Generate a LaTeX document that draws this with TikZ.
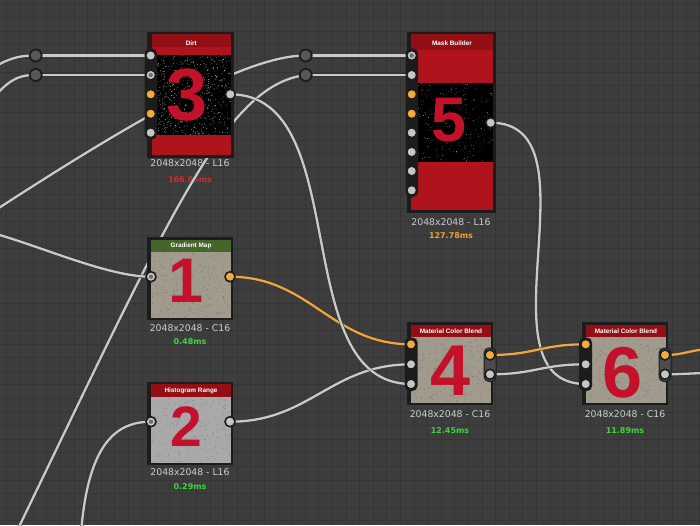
\documentclass[tikz,border=0pt]{standalone}
\usepackage{fontspec}
\setmainfont{DejaVu Sans}
\newfontfamily\arialf{Liberation Sans}
\pgfdeclarelayer{gridl}
\pgfdeclarelayer{wirel}
\pgfsetlayers{gridl,wirel,main}
\definecolor{bgc}{HTML}{3D3D3D}
\definecolor{gridc}{HTML}{353535}
\definecolor{framec}{HTML}{1C1C1C}
\definecolor{hdrred}{HTML}{930E15}
\definecolor{bodyred}{HTML}{AF131B}
\definecolor{numred}{HTML}{C3102B}
\definecolor{hdrgreen}{HTML}{46652A}
\definecolor{beige}{HTML}{A19B8E}
\definecolor{greytex}{HTML}{A9A9A9}
\definecolor{sockc}{HTML}{C6C6C6}
\definecolor{sockor}{HTML}{F5AA3C}
\definecolor{wireg}{HTML}{C9C9C9}
\definecolor{wireo}{HTML}{EFA43C}
\definecolor{captc}{HTML}{CDCDCD}
\definecolor{timered}{HTML}{E02828}
\definecolor{timeorange}{HTML}{F0A030}
\definecolor{timegreen}{HTML}{3FD43F}
\definecolor{relayc}{HTML}{585858}
\definecolor{outbar}{HTML}{4C4C4C}
\tikzset{
  sock/.style={circle, minimum size=10pt, inner sep=0pt, draw=framec, line width=1.6pt, fill=sockc},
  socko/.style={sock, fill=sockor},
  sockr/.style={sock, path picture={\fill[sockc!55!black] (path picture bounding box.center) circle (2.2pt);}},
  relay/.style={circle, minimum size=12pt, inner sep=0pt, draw=framec, line width=1.8pt, fill=relayc},
  wire/.style={draw=wireg, line width=2.3pt, preaction={draw=black!80, line width=3.3pt}},
  owire/.style={draw=wireo, line width=2.3pt, preaction={draw=black!80, line width=3.3pt}},
  caption/.style={font=\fontsize{9.3}{10}\selectfont, text=captc, inner sep=0pt},
  timing/.style={font=\fontsize{8}{9}\selectfont\bfseries, inner sep=0pt},
  title/.style={font=\arialf\bfseries\fontsize{6.4}{7}\selectfont, text=white, inner sep=0pt},
  digit/.style={font=\arialf\bfseries\fontsize{#1}{#1}\selectfont, text=numred, inner sep=0pt},
  gridline/.style={draw=gridc, line width=0.7pt}
}
\begin{document}
\begin{tikzpicture}[x=1pt,y=-1pt]
\useasboundingbox (0,0) rectangle (700,525);
\clip (0,0) rectangle (700,525);
\begin{pgfonlayer}{gridl}
\fill[bgc] (0,0) rectangle (700,525);
\foreach \gx in {6,19.6,...,700} \draw[gridline] (\gx,0) -- (\gx,525);
\foreach \gy in {4,17.6,...,525} \draw[gridline] (0,\gy) -- (700,\gy);
% captions (under wires)
\node[caption] (c3) at (190,163.3) {2048x2048 - L16};
\node[timing, text=timered] (t3) at (190,179.3) {166.85ms};
\node[caption] (c5) at (451,222) {2048x2048 - L16};
\node[timing, text=timeorange] (t5) at (451,236) {127.78ms};
\node[caption] (c1) at (190,327.7) {2048x2048 - C16};
\node[timing, text=timegreen] (t1) at (190,341.7) {0.48ms};
\node[caption] (c2) at (190,471.7) {2048x2048 - L16};
\node[timing, text=timegreen] (t2) at (190,486.7) {0.29ms};
\node[caption] (c4) at (450,414.3) {2048x2048 - C16};
\node[timing, text=timegreen] (t4) at (450,431) {12.45ms};
\node[caption] (c6) at (625,414.3) {2048x2048 - C16};
\node[timing, text=timegreen] (t6) at (625,431) {11.89ms};
\end{pgfonlayer}

% ---------- Node 3 : Dirt ----------
\fill[framec] (147,31.5) rectangle (233.5,157.5);
\fill[bodyred] (151.7,34.3) rectangle (230.7,55);
\fill[hdrred] (151.7,34.3) rectangle (230.7,47);
\fill[black] (151.7,55) rectangle (230.7,135);
\fill[bodyred] (151.7,135) rectangle (230.7,155);
\pgfmathsetseed{7}
\foreach \k in {1,...,650}{
  \pgfmathsetmacro{\px}{152.2+78*rnd}
  \pgfmathsetmacro{\py}{55.5+79*rnd}
  \pgfmathtruncatemacro{\pg}{25+65*rnd}
  \fill[white!\pg!black] (\px,\py) circle (0.45);
}
\node[title] (h3) at (191.3,43.3) {Dirt};
\node[digit=74] (d3) at (186.7,95) {3};
\fill[framec, rounded corners=5pt] (144.5,48.5) rectangle (157,139.5);
\node[sock] (n3i1) at (150.7,55.5) {};
\node[sockr] (n3i2) at (150.7,75) {};
\node[socko] (n3i3) at (150.7,94.3) {};
\node[socko] (n3i4) at (150.7,113.7) {};
\node[sock] (n3i5) at (150.7,132.7) {};
\node[sock] (n3o) at (230.3,94.3) {};

% ---------- Node 5 : Mask Builder ----------
\fill[framec] (407.3,31.5) rectangle (495.7,212.5);
\fill[bodyred] (411,34.3) rectangle (493.3,83);
\fill[hdrred] (411,34.3) rectangle (493.3,50);
\fill[black] (411,83) rectangle (493.3,162);
\fill[bodyred] (411,162) rectangle (493.3,210);
\foreach \k in {1,...,260}{
  \pgfmathsetmacro{\px}{411.5+81.5*rnd}
  \pgfmathsetmacro{\py}{83.5+78*rnd}
  \pgfmathtruncatemacro{\pg}{20+60*rnd}
  \fill[white!\pg!black] (\px,\py) circle (0.4);
}
\node[title] (h5) at (452,43.3) {Mask Builder};
\node[digit=63] (d5) at (449,120.5) {5};
\fill[framec, rounded corners=5pt] (405.5,48.5) rectangle (418,197);
\node[sockr] (n5i1) at (411.7,55.5) {};
\node[sock] (n5i2) at (411.7,75) {};
\node[socko] (n5i3) at (411.7,94.3) {};
\node[socko] (n5i4) at (411.7,113.7) {};
\node[sock] (n5i5) at (411.7,132.7) {};
\node[sock] (n5i6) at (411.7,152) {};
\node[sock] (n5i7) at (411.7,171) {};
\node[sock] (n5i8) at (411.7,190.3) {};
\node[sock] (n5o) at (490.7,122.7) {};

% ---------- Node 1 : Gradient Map ----------
\fill[framec] (147.3,237.3) rectangle (233.3,320);
\fill[hdrgreen] (151,239.5) rectangle (231,252);
\fill[beige] (151,252) rectangle (231,317.5);
\foreach \k in {1,...,350}{
  \pgfmathsetmacro{\px}{151.5+79*rnd}
  \pgfmathsetmacro{\py}{252.5+64.5*rnd}
  \pgfmathtruncatemacro{\pg}{55+45*rnd}
  \fill[beige!\pg!black, opacity=0.6] (\px,\py) circle (0.55);
}
\node[title] (h1) at (191,245.7) {Gradient Map};
\node[digit=63] (d1) at (186.3,280.8) {1};
\node[sockr] (n1i) at (151,276.7) {};
\node[socko] (n1o) at (230,276.7) {};

% ---------- Node 2 : Histogram Range ----------
\fill[framec] (147.3,381.7) rectangle (233.3,465);
\fill[hdrred] (151,384) rectangle (231,397);
\fill[greytex] (151,397) rectangle (231,462.5);
\foreach \k in {1,...,350}{
  \pgfmathsetmacro{\px}{151.5+79*rnd}
  \pgfmathsetmacro{\py}{397.5+64.5*rnd}
  \pgfmathtruncatemacro{\pg}{60+40*rnd}
  \fill[greytex!\pg!black, opacity=0.6] (\px,\py) circle (0.55);
}
\node[title] (h2) at (191,390.7) {Histogram Range};
\node[digit=57] (d2) at (186,427) {2};
\node[sockr] (n2i) at (151,421.7) {};
\node[sock] (n2o) at (230,421.7) {};

% ---------- Node 4 : Material Color Blend ----------
\fill[framec] (407.3,322.3) rectangle (493.3,405);
\fill[hdrred] (411,324.5) rectangle (491,337);
\fill[beige] (411,337) rectangle (491,402.5);
\foreach \k in {1,...,350}{
  \pgfmathsetmacro{\px}{411.5+79*rnd}
  \pgfmathsetmacro{\py}{337.5+64.5*rnd}
  \pgfmathtruncatemacro{\pg}{55+45*rnd}
  \fill[beige!\pg!black, opacity=0.6] (\px,\py) circle (0.55);
}
\node[title] (h4) at (451,331.7) {Material Color Blend};
\node[digit=72] (d4) at (450.7,370.8) {4};
\fill[framec, rounded corners=5pt] (404.5,337.5) rectangle (417.5,391);
\filldraw[fill=outbar, draw=framec, line width=1pt, rounded corners=5pt] (484,348) rectangle (496,381.5);
\node[socko] (n4i1) at (411,344.3) {};
\node[sock] (n4i2) at (411,364.3) {};
\node[sock] (n4i3) at (411,384) {};
\node[socko] (n4o1) at (490,355) {};
\node[sock] (n4o2) at (490,374.3) {};

% ---------- Node 6 : Material Color Blend ----------
\fill[framec] (582.3,322.3) rectangle (668.3,405);
\fill[hdrred] (586,324.5) rectangle (666,337);
\fill[beige] (586,337) rectangle (666,402.5);
\foreach \k in {1,...,350}{
  \pgfmathsetmacro{\px}{586.5+79*rnd}
  \pgfmathsetmacro{\py}{337.5+64.5*rnd}
  \pgfmathtruncatemacro{\pg}{55+45*rnd}
  \fill[beige!\pg!black, opacity=0.6] (\px,\py) circle (0.55);
}
\node[title] (h6) at (626,331.7) {Material Color Blend};
\node[digit=72] (d6) at (622.5,372.5) {6};
\fill[framec, rounded corners=5pt] (579,337.5) rectangle (592,391);
\filldraw[fill=outbar, draw=framec, line width=1pt, rounded corners=5pt] (659,348) rectangle (671,381.5);
\node[socko] (n6i1) at (585.7,344.3) {};
\node[sock] (n6i2) at (585.7,364.3) {};
\node[sock] (n6i3) at (585.7,384) {};
\node[socko] (n6o1) at (665,355) {};
\node[sock] (n6o2) at (665,374.3) {};

% ---------- relays ----------
\node[relay] (rA) at (35.7,55.5) {};
\node[relay] (rB) at (35.7,75) {};
\node[relay] (rC) at (305.7,55.5) {};
\node[relay] (rD) at (305.7,75) {};

% free ends
\coordinate (l1) at (-4,66);
\coordinate (l2) at (-4,95);
\coordinate (l3) at (-2,208.5);
\coordinate (l4) at (16,533);
\coordinate (l5) at (-2,234.5);
\coordinate (l14) at (81,533);
\coordinate (r1) at (712,349);
\coordinate (r2) at (712,373);

\begin{pgfonlayer}{wirel}
\draw[wire] (l1) .. controls (12,57) and (22,55.5) .. (rA.center);
\draw[wire] (l2) .. controls (12,77) and (22,75) .. (rB.center);
\draw[wire] (rA.center) -- (n3i1.center);
\draw[wire] (rB.center) -- (n3i2.center);
\draw[wire] (rC.center) -- (n5i1.center);
\draw[wire] (rD.center) -- (n5i2.center);
\draw[wire] (l3) .. controls (150,110) and (250,55.5) .. (rC.center);
\draw[wire] (l4) .. controls (170,215) and (225,85) .. (rD.center);
\draw[wire] (l5) .. controls (50,250) and (110,276.7) .. (n1i.center);
\draw[owire] (n1o.center) .. controls +(80,0) and +(-80,0) .. (n4i1.center);
\draw[wire] (n2o.center) .. controls +(80,0) and +(-80,0) .. (n4i2.center);
\draw[wire] (n3o.center) .. controls +(125,0) and +(-125,0) .. (n4i3.center);
\draw[wire] (n5o.center) .. controls +(112,0) and +(-112,0) .. (n6i3.center);
\draw[owire] (n4o1.center) .. controls +(45,0) and +(-45,0) .. (n6i1.center);
\draw[wire] (n4o2.center) .. controls +(45,0) and +(-45,0) .. (n6i2.center);
\draw[owire] (n6o1.center) .. controls +(20,0) and +(-20,0) .. (r1);
\draw[wire] (n6o2.center) .. controls +(20,0) and +(-20,0) .. (r2);
\draw[wire] (l14) .. controls (88,445) and (115,421.7) .. (n2i.center);
\end{pgfonlayer}
\end{tikzpicture}
\end{document}
